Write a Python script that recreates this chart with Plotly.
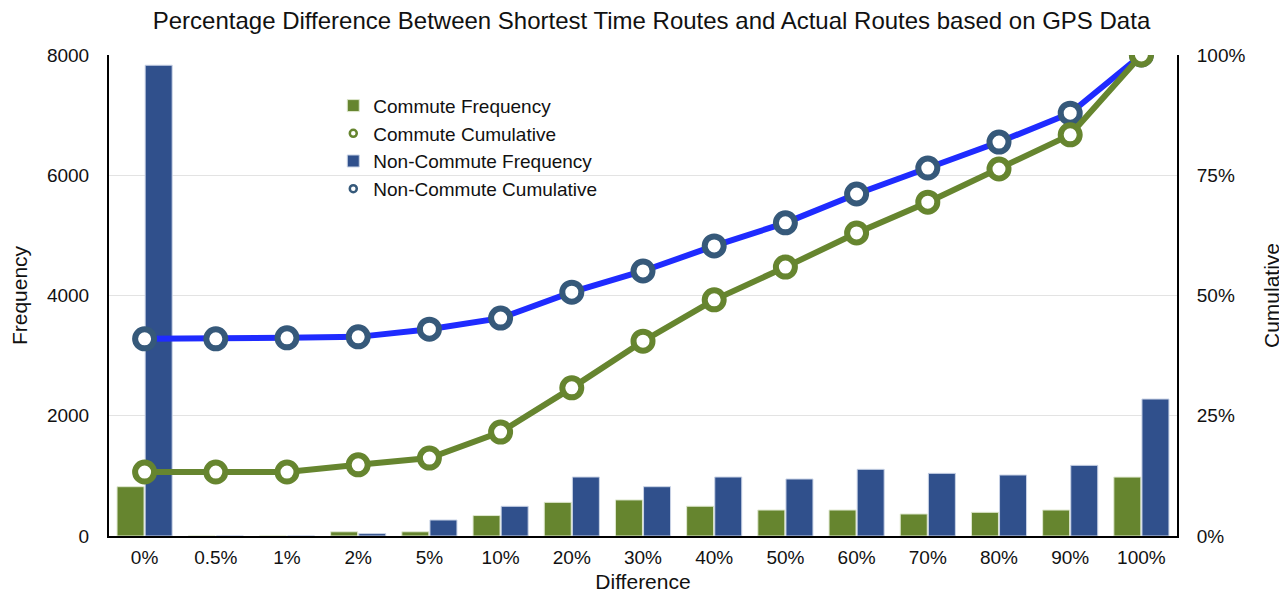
import plotly.graph_objects as go

categories = ["0%", "0.5%", "1%", "2%", "5%", "10%", "20%", "30%", "40%", "50%", "60%", "70%", "80%", "90%", "100%"]
commute_freq = [820, 0, 0, 70, 70, 340, 560, 600, 495, 432, 432, 366, 394, 432, 980]
noncommute_freq = [7830, 0, 0, 40, 266, 494, 981, 820, 981, 948, 1109, 1042, 1014, 1175, 2278]
commute_cum = [0.133, 0.133, 0.133, 0.148, 0.162, 0.216, 0.308, 0.405, 0.491, 0.559, 0.63, 0.694, 0.763, 0.834, 1.0]
noncommute_cum = [0.41, 0.41, 0.412, 0.414, 0.43, 0.453, 0.507, 0.551, 0.603, 0.651, 0.711, 0.765, 0.819, 0.879, 1.0]

GREEN = "#66852f"
BLUE_BAR = "#30508c"
BLUE_LINE = "#1f2bff"
BLUE_MARK = "#36597a"
FONT = "Liberation Sans, Arial, sans-serif"

fig = go.Figure()
fig.add_trace(go.Bar(x=categories, y=commute_freq, name="Commute Frequency",
                     marker=dict(color=GREEN, line=dict(color="#dfe8cf", width=1)), legendrank=1))
fig.add_trace(go.Bar(x=categories, y=noncommute_freq, name="Non-Commute Frequency",
                     marker=dict(color=BLUE_BAR, line=dict(color="#c9d3e6", width=1)), legendrank=3))
fig.add_trace(go.Scatter(x=categories, y=noncommute_cum, name="Non-Commute Cumulative", yaxis="y2",
                         mode="lines+markers", line=dict(color=BLUE_LINE, width=6),
                         marker=dict(symbol="circle", size=19, color="white", line=dict(color=BLUE_MARK, width=6)),
                         showlegend=False))
fig.add_trace(go.Scatter(x=categories, y=commute_cum, name="Commute Cumulative", yaxis="y2",
                         mode="lines+markers", line=dict(color=GREEN, width=6),
                         marker=dict(symbol="circle", size=19, color="white", line=dict(color=GREEN, width=6)),
                         showlegend=False))
# legend-only entries (marker symbol without line, as in the reference legend)
fig.add_trace(go.Scatter(x=[None], y=[None], name="Commute Cumulative", mode="markers", yaxis="y2",
                         marker=dict(symbol="circle", size=7, color="white", line=dict(color=GREEN, width=2.5)),
                         legendrank=2))
fig.add_trace(go.Scatter(x=[None], y=[None], name="Non-Commute Cumulative", mode="markers", yaxis="y2",
                         marker=dict(symbol="circle", size=7, color="white", line=dict(color=BLUE_MARK, width=2.5)),
                         legendrank=4))

fig.update_layout(
    width=1287, height=603,
    margin=dict(l=101, r=118, t=47, b=75),
    paper_bgcolor="white", plot_bgcolor="white",
    font=dict(family=FONT, size=19, color="#111"),
    title=dict(text="Percentage Difference Between Shortest Time Routes and Actual Routes based on GPS Data",
               x=0.5, xanchor="center", y=1, yanchor="top", pad=dict(t=4),
               font=dict(size=24, color="#111")),
    barmode="group", bargap=0.21, bargroupgap=0.04,
    showlegend=True,
    legend=dict(x=0.21, y=0.934, xanchor="left", yanchor="top", bgcolor="rgba(0,0,0,0)",
                font=dict(size=19), itemsizing="trace", tracegroupgap=0, traceorder="normal",
                itemwidth=30),
    xaxis=dict(title=dict(text="Difference", font=dict(size=21), standoff=8), showline=True, linecolor="black",
               linewidth=2, ticks="", showgrid=False, range=[-0.5, 14.5], ticklabelstandoff=3,
               automargin=False),
    yaxis=dict(title=dict(text="Frequency", font=dict(size=21), standoff=15), range=[0, 8000], dtick=2000,
               showline=True, linecolor="black", linewidth=2, gridcolor="#e3e3e3", zeroline=False,
               ticks="", ticklabelstandoff=14, automargin=False),
    yaxis2=dict(title=dict(text="Cumulative", font=dict(size=21), standoff=20), range=[0, 1], dtick=0.25,
                tickformat=".0%", overlaying="y", side="right", showline=True, linecolor="black", linewidth=2,
                showgrid=False, zeroline=False, ticks="", ticklabelstandoff=14, automargin=False),
)

fig.write_html("out.html")
